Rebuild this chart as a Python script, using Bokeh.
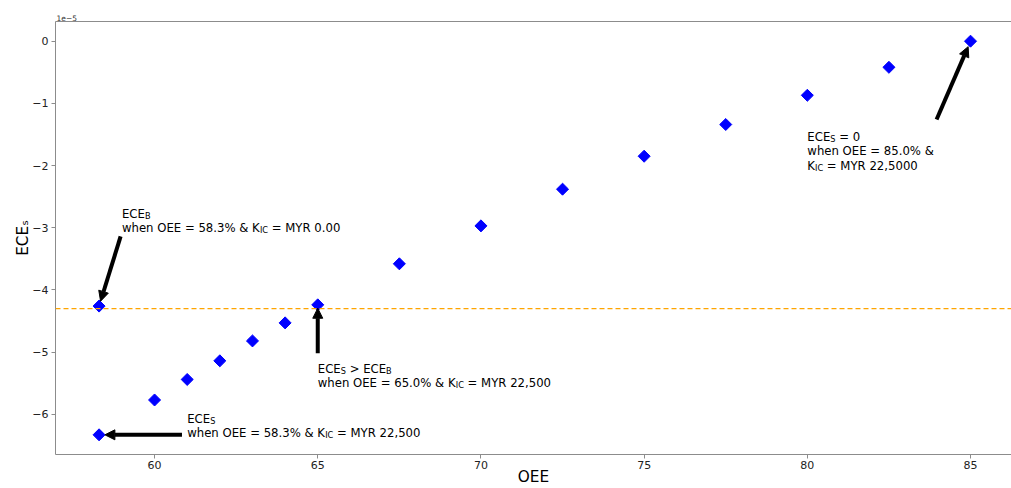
import math
from bokeh.plotting import figure
from bokeh.models import (Range1d, Span, Arrow, NormalHead, ColumnDataSource,
                          LinearAxis, FixedTicker, CustomJSTickFormatter)
from bokeh.core.properties import value
from bokeh.embed import file_html
from bokeh.resources import INLINE

# ---------------- data (y values in units of 1e-5) ----------------
oee = [58.3, 60, 61, 62, 63, 64, 65, 67.5, 70, 72.5, 75, 77.5, 80, 82.5, 85]
ece_s = [-6.33, -5.77, -5.44, -5.14, -4.82, -4.53, -4.24, -3.58, -2.97, -2.38,
         -1.85, -1.34, -0.87, -0.42, 0.0]
ece_b_oee = [58.3]
ece_b = [-4.26]
ece_b_level = -4.30
y_scale_label = "1e\u22125"
x_ticks = [60, 65, 70, 75, 80, 85]
y_ticks = [0, -1, -2, -3, -4, -5, -6]
x_label = "OEE"
y_label = "ECE\u209b"

# annotations: target point, text anchor (baseline of last line), arrow tail
ann_point_x = [58.3, 58.3, 65.0, 85.0]
ann_point_y = [-4.26, -6.33, -4.24, 0.0]
ann_text_x = [59.0, 61.0, 65.0, 80.0]
ann_text_y = [-3.0, -6.3, -5.5, -2.0]
ann_tail_x = [58.96, 60.84, 65.0, 83.96]
ann_tail_y = [-3.14, -6.33, -5.02, -1.26]
ann_lines = [
    [[("ECE", False), ("B", True)],
     [("when OEE = 58.3% & K", False), ("IC", True), (" = MYR 0.00", False)]],
    [[("ECE", False), ("S", True)],
     [("when OEE = 58.3% & K", False), ("IC", True), (" = MYR 22,500", False)]],
    [[("ECE", False), ("S", True), (" > ECE", False), ("B", True)],
     [("when OEE = 65.0% & K", False), ("IC", True), (" = MYR 22,500", False)]],
    [[("ECE", False), ("S", True), (" = 0", False)],
     [("when OEE = 85.0% &", False)],
     [("K", False), ("IC", True), (" = MYR 22,5000", False)]],
]

# ---------------- styling helpers ----------------
FONT = "DejaVu Sans"
W = {' ': 0.318, '=': 0.838, '>': 0.838, '&': 0.780, '%': 0.950, '.': 0.318, ',': 0.318,
     'B': 0.686, 'C': 0.698, 'E': 0.632, 'I': 0.295, 'K': 0.656, 'M': 0.863, 'O': 0.787,
     'R': 0.695, 'S': 0.635, 'Y': 0.611, 'e': 0.615, 'h': 0.634, 'n': 0.634, 'w': 0.818}
for d in "0123456789":
    W[d] = 0.636


def text_width(s, size):
    return sum(W.get(c, 0.6) for c in s) * size


FS = 11.7
SUB = FS * 0.7
LINE = 14.2
DROP = 2.2
SPINE = "#8c8c8c"

# ranges (matplotlib-like 5% margins)
xspan = max(oee) - min(oee)
x0 = min(oee) - 0.05 * xspan
x1_full = max(oee) + 0.05 * xspan
x1 = x0 + (x1_full - x0) * 956.0 / 958.6
yspan = max(ece_s) - min(ece_s)
y0 = min(ece_s) - 0.05 * yspan
y1 = max(ece_s) + 0.05 * yspan

p = figure(width=1011, height=488, x_range=Range1d(x0, x1), y_range=Range1d(y0, y1),
           output_backend="svg", toolbar_location=None,
           min_border_left=55, min_border_right=0, min_border_top=21, min_border_bottom=33)
p.background_fill_color = "white"
p.border_fill_color = "white"
p.outline_line_color = None
p.xgrid.visible = False
p.ygrid.visible = False

# offset text shown as a tiny left-aligned title above the frame
p.title.text = y_scale_label
p.title.align = "left"
p.title.text_font = FONT
p.title.text_font_size = "7.5px"
p.title.text_font_style = "normal"
p.title.text_color = "#333333"
p.title.standoff = 1
p.title.offset = 1

for ax in (p.xaxis[0], p.yaxis[0]):
    ax.axis_line_color = SPINE
    ax.major_tick_line_color = SPINE
    ax.minor_tick_line_color = None
    ax.major_tick_out = 4
    ax.major_tick_in = 0
    ax.major_label_text_font = FONT
    ax.major_label_text_font_size = "11px"
    ax.major_label_text_color = "#222222"
    ax.axis_label_text_font = FONT
    ax.axis_label_text_font_size = "15.3px"
    ax.axis_label_text_font_style = "normal"
    ax.axis_label_text_color = "black"
p.xaxis.ticker = FixedTicker(ticks=x_ticks)
p.yaxis.ticker = FixedTicker(ticks=y_ticks)
p.xaxis.major_label_standoff = 2
p.yaxis.major_label_standoff = 3
p.xaxis.axis_label = x_label
p.yaxis.axis_label = y_label
p.xaxis.axis_label_standoff = -4
p.yaxis.axis_label_standoff = -3
p.yaxis.formatter = CustomJSTickFormatter(
    code="return tick < 0 ? '\\u2212' + String(-tick) : String(tick);")

top = LinearAxis(ticker=FixedTicker(ticks=[]), axis_line_color=SPINE,
                 major_tick_line_color=None, minor_tick_line_color=None,
                 major_label_text_font_size="0px", major_label_standoff=0)
p.add_layout(top, "above")

# reference level
p.add_layout(Span(location=ece_b_level, dimension="width", line_color="orange",
                  line_dash="5 3", line_width=1.2))

# markers
p.scatter(oee, ece_s, marker="square", angle=math.pi / 4, size=8.5,
          fill_color="blue", line_color="blue")
p.scatter(ece_b_oee, ece_b, marker="square", angle=math.pi / 4, size=8.5,
          fill_color="blue", line_color="blue")

# arrows
SHRINK = 0.07
tip_x = [px + SHRINK * (tx - px) for px, tx in zip(ann_point_x, ann_tail_x)]
tip_y = [py + SHRINK * (ty - py) for py, ty in zip(ann_point_y, ann_tail_y)]
asrc = ColumnDataSource(dict(xs=ann_tail_x, ys=ann_tail_y, xe=tip_x, ye=tip_y))
p.add_layout(Arrow(x_start="xs", y_start="ys", x_end="xe", y_end="ye", source=asrc,
                   line_width=4, line_color="black",
                   end=NormalHead(size=10, fill_color="black", line_color="black",
                                  line_width=1)))

# annotation texts (segments; subscripts smaller and dropped)
norm = dict(x=[], y=[], xo=[], yo=[], text=[])
subs = dict(x=[], y=[], xo=[], yo=[], text=[])
for k, lines in enumerate(ann_lines):
    n = len(lines)
    for i, segs in enumerate(lines):
        dy = (n - 1 - i) * LINE
        cx = 0.0
        for s, is_sub in segs:
            fs = SUB if is_sub else FS
            tgt = subs if is_sub else norm
            lead = len(s) - len(s.lstrip(" "))
            tgt["x"].append(ann_text_x[k])
            tgt["y"].append(ann_text_y[k])
            tgt["xo"].append(cx + text_width(" " * lead, fs))
            tgt["yo"].append(-dy + (DROP if is_sub else 0.0))
            tgt["text"].append(s.lstrip(" "))
            cx += text_width(s, fs)

p.text(x="x", y="y", text="text", x_offset="xo", y_offset="yo",
       source=ColumnDataSource(norm), text_font=value(FONT), text_font_size=f"{FS}px",
       text_color="black", text_align="left", text_baseline="alphabetic")
p.text(x="x", y="y", text="text", x_offset="xo", y_offset="yo",
       source=ColumnDataSource(subs), text_font=value(FONT), text_font_size=f"{SUB:.2f}px",
       text_color="black", text_align="left", text_baseline="alphabetic")

open("out.html", "w").write(file_html(p, INLINE))
